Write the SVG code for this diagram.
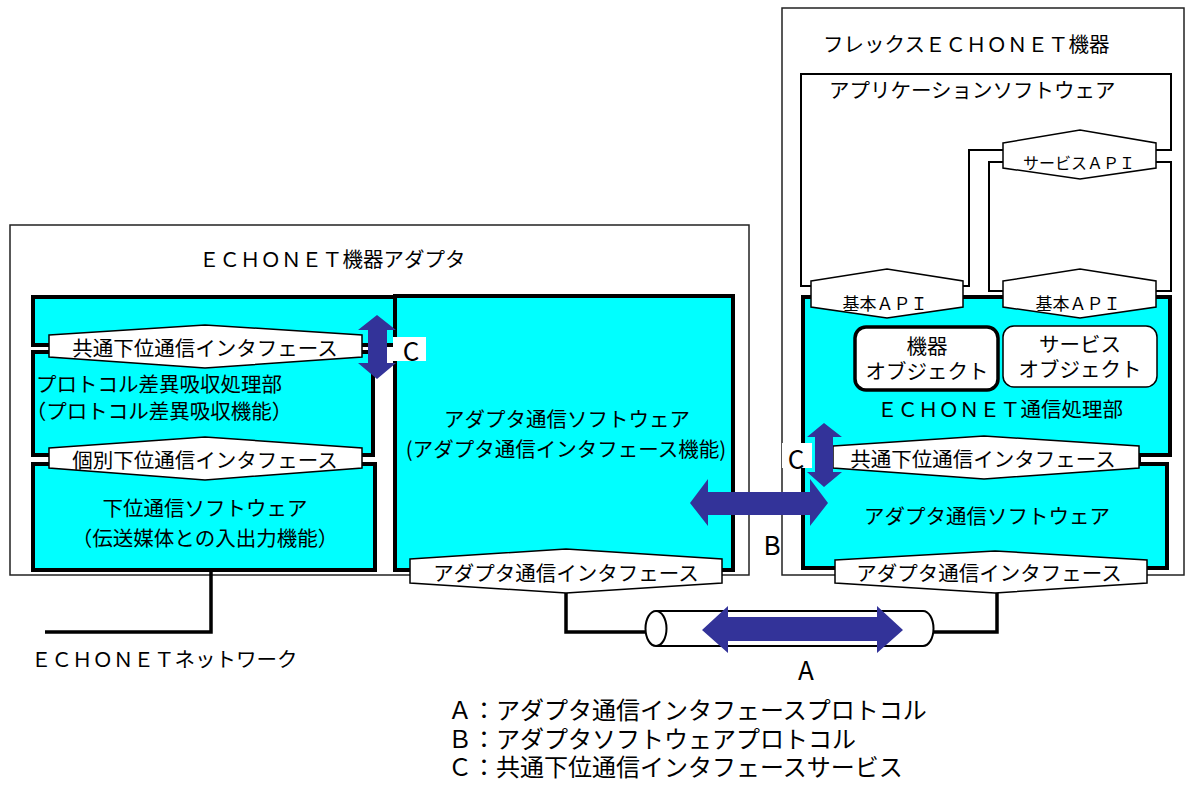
<svg xmlns="http://www.w3.org/2000/svg" width="1186" height="785" viewBox="0 0 1186 785">
<style>
text{font-family:"Noto Sans CJK JP","Noto Sans",sans-serif;font-size:20.5px;fill:#000;dominant-baseline:central}
.m{text-anchor:middle}
.outer{fill:#fff;stroke:#222;stroke-width:1.5}
.blk{fill:#00ffff;stroke:#000;stroke-width:4}
.hex{fill:#fff;stroke:#000;stroke-width:1.5}
.ln{fill:none;stroke:#000;stroke-width:2}
.thk{fill:none;stroke:#000;stroke-width:3.5}
.arw{fill:#333399}
.lbl{font-size:26px}
.api{font-size:17px}
.leg{font-size:24px}
</style>
<rect width="1186" height="785" fill="#fff"/>

<g id="adapter">
<rect class="outer" x="10" y="225" width="739" height="350"/>
<text x="199" y="258">ＥＣＨＯＮＥＴ機器アダプタ</text>
</g>

<g id="device">
<rect class="outer" x="782" y="8" width="402" height="567"/>
<text x="823" y="43">フレックスＥＣＨＯＮＥＴ機器</text>
</g>

<g id="top-block">
<rect class="blk" x="33" y="297" width="362" height="48"/>
</g>

<g id="protocol-block">
<rect class="blk" x="33" y="352" width="340" height="103"/>
<text class="m" x="159" y="383">プロトコル差異吸収処理部</text>
<text class="m" x="159" y="410">（プロトコル差異吸収機能）</text>
</g>

<g id="lower-software">
<rect class="blk" x="33" y="464" width="342" height="106"/>
<text class="m" x="205" y="507">下位通信ソフトウェア</text>
<text class="m" x="205" y="537">（伝送媒体との入出力機能）</text>
</g>

<g id="adapter-software">
<rect class="blk" x="395" y="296" width="338" height="274"/>
<text class="m" x="567" y="418">アダプタ通信ソフトウェア</text>
<text class="m" x="566" y="448">(アダプタ通信インタフェース機能)</text>
</g>

<g id="common-if-left">
<polygon class="hex" points="49,335 205,325 362,335 362,357 205,368 49,357"/>
<text class="m" x="205" y="347">共通下位通信インタフェース</text>
</g>

<g id="individual-if">
<polygon class="hex" points="49,448 205,437 362,448 362,468 205,480 49,468"/>
<text class="m" x="205" y="459">個別下位通信インタフェース</text>
</g>

<g id="adapter-if-left">
<polygon class="hex" points="410,559 566,549 722,559 722,583 566,593 410,583"/>
<text class="m" x="566" y="572">アダプタ通信インタフェース</text>
</g>

<g id="app-software">
<path class="ln" d="M811,286 H801 V74 H1171 V150 H1156"/>
<path class="ln" d="M963,286 H969 V150 H1003"/>
<path class="ln" d="M1003,162 H989 V291 H1003"/>
<path class="ln" d="M1156,162 H1171 V291 H1156"/>
<text x="829" y="89">アプリケーションソフトウェア</text>
</g>

<g id="echonet-processing">
<path class="blk" d="M803,297 H1170 V455 H1139 V464 H1167 V568 H803 Z"/>
<text class="m" x="1000" y="408">ＥＣＨＯＮＥＴ通信処理部</text>
<text class="m" x="987" y="515">アダプタ通信ソフトウェア</text>
</g>

<g id="device-object">
<rect x="855" y="327" width="143" height="63" rx="11" fill="#fff" stroke="#000" stroke-width="3.5"/>
<text class="m" x="927" y="345">機器</text>
<text class="m" x="927" y="370">オブジェクト</text>
</g>

<g id="service-object">
<rect x="1003" y="326" width="154" height="61" rx="11" fill="#fff" stroke="#000" stroke-width="1.5"/>
<text class="m" x="1080" y="343">サービス</text>
<text class="m" x="1080" y="368">オブジェクト</text>
</g>

<g id="service-api">
<polygon class="hex" points="1003,143 1080,130 1156,143 1156,168 1080,179 1003,168"/>
<text class="m" x="1079" y="162" style="font-size:16px">サービスＡＰＩ</text>
</g>

<g id="basic-api-1">
<polygon class="hex" points="811,281 887,269 963,281 963,307 887,318 811,307"/>
<text class="m api" x="885" y="302">基本ＡＰＩ</text>
</g>

<g id="basic-api-2">
<polygon class="hex" points="1003,281 1080,269 1156,281 1156,307 1080,318 1003,307"/>
<text class="m api" x="1078" y="302">基本ＡＰＩ</text>
</g>

<g id="common-if-right">
<polygon class="hex" points="833,446 984,436 1139,446 1139,468 984,479 833,468"/>
<text class="m" x="983" y="458">共通下位通信インタフェース</text>
</g>

<g id="adapter-if-right">
<polygon class="hex" points="835,560 995,551 1147,560 1147,583 995,593 835,583"/>
<text class="m" x="989" y="572">アダプタ通信インタフェース</text>
</g>

<g id="connectors">
<path class="thk" d="M211,570 V632 H45"/>
<path class="thk" d="M566,593 V632 H650"/>
<path class="thk" d="M997,593 V632 H930"/>
</g>

<g id="pipe">
<path d="M656,611 H923 A10.5,17.5 0 0 1 923,646 H656" fill="#fff" stroke="#000" stroke-width="2"/>
<ellipse cx="656" cy="628.5" rx="10.5" ry="17.5" fill="#fff" stroke="#000" stroke-width="2"/>
</g>

<g id="network-label">
<text x="31" y="658">ＥＣＨＯＮＥＴネットワーク</text>
</g>

<g id="arrows">
<rect x="393" y="337" width="33" height="24" fill="#fff"/>
<text class="m lbl" x="411" y="349">C</text>
<polygon class="arw" points="377,315 396,330 387,330 387,363 396,363 377,379 358,363 368,363 368,330 358,330"/>
<rect x="782" y="443" width="30" height="25" fill="#fff"/>
<text class="m lbl" x="796" y="457">C</text>
<polygon class="arw" points="824,423 842,437 833,437 833,472 842,472 824,487 807,472 815,472 815,437 807,437"/>
<polygon class="arw" points="690,503 708,479 708,492 810,492 810,479 828,503 810,526 810,515 708,515 708,526"/>
<text class="m lbl" x="772" y="543">B</text>
<polygon class="arw" points="702,630 728,606 728,617 877,617 877,606 903,630 877,653 877,641 728,641 728,653"/>
<text class="m lbl" x="806" y="668">A</text>
</g>

<g id="legend">
<text class="leg" x="448" y="708">Ａ：アダプタ通信インタフェースプロトコル</text>
<text class="leg" x="448" y="737">Ｂ：アダプタソフトウェアプロトコル</text>
<text class="leg" x="448" y="765">Ｃ：共通下位通信インタフェースサービス</text>
</g>
</svg>
